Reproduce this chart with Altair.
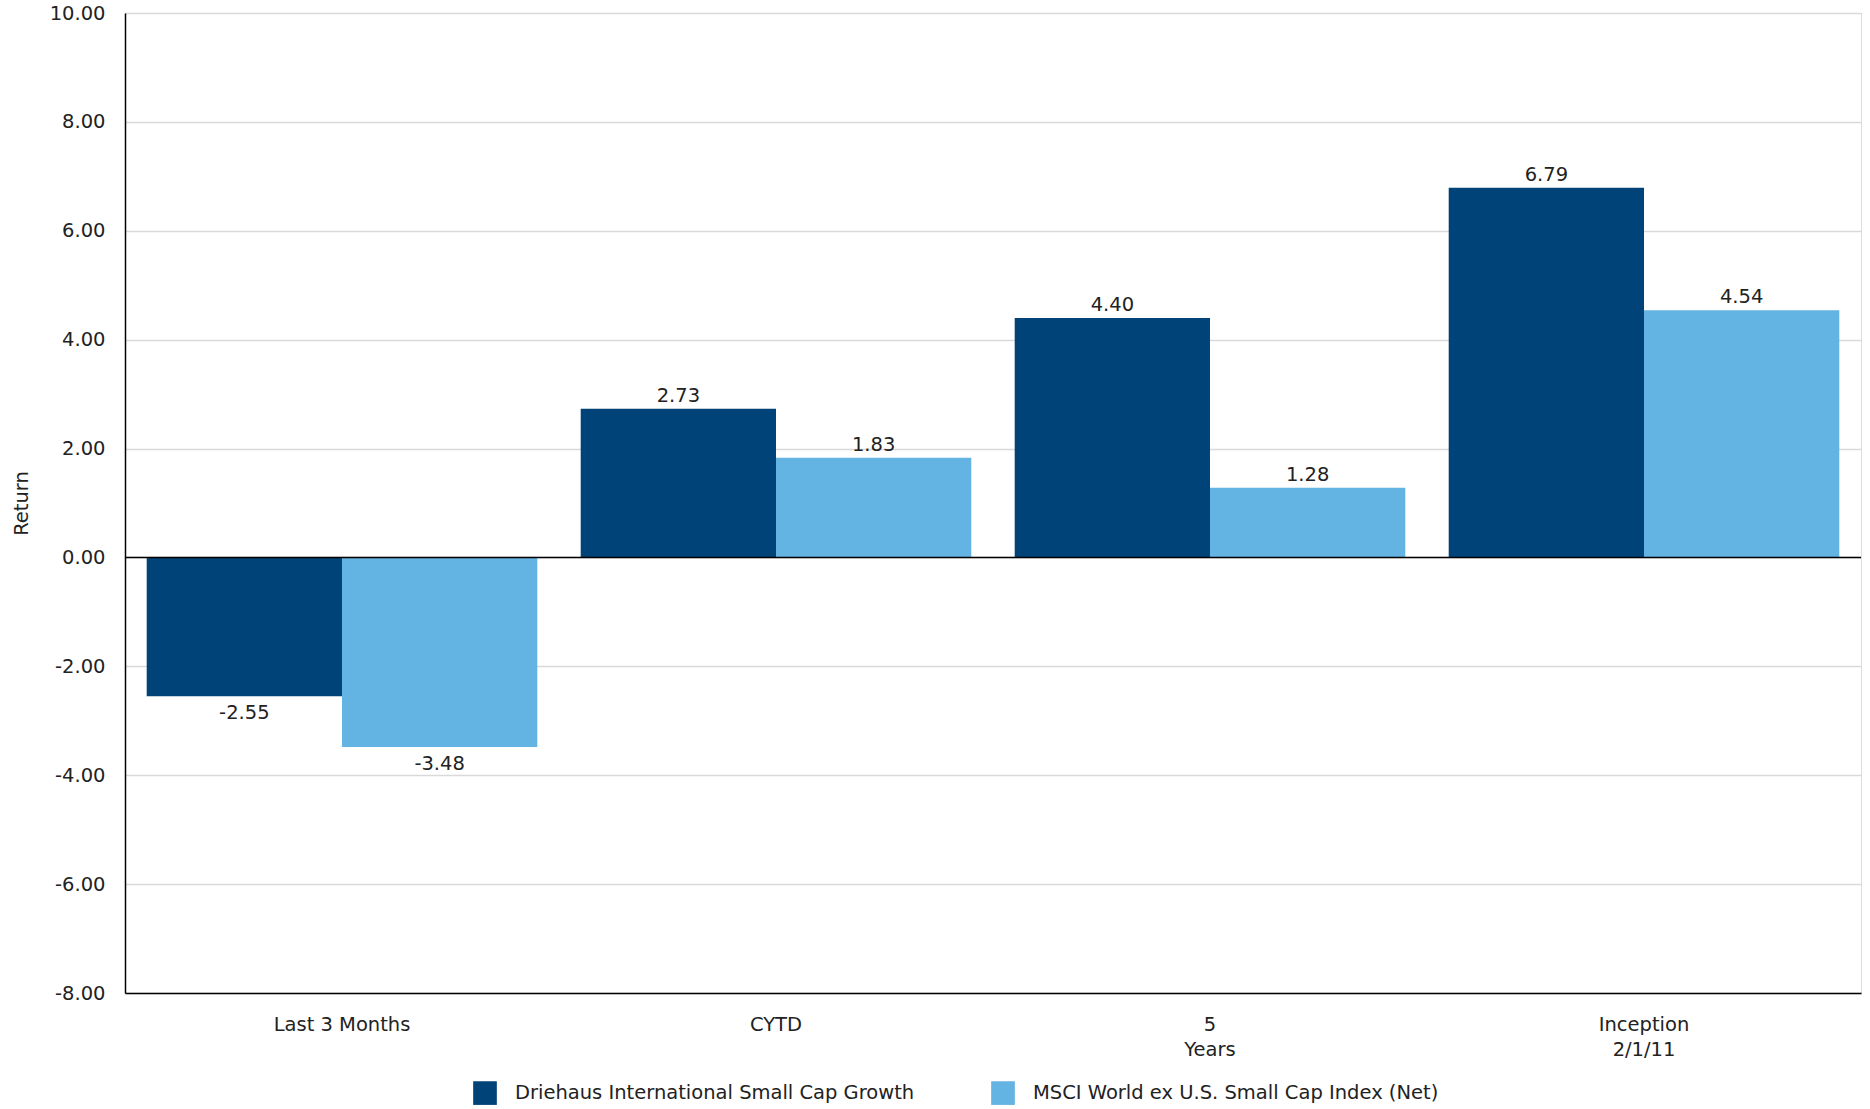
import altair as alt
import pandas as pd

categories = ["Last 3 Months", "CYTD", "5|Years", "Inception|2/1/11"]
series = ["Driehaus International Small Cap Growth", "MSCI World ex U.S. Small Cap Index (Net)"]
fund = [-2.55, 2.73, 4.40, 6.79]
index = [-3.48, 1.83, 1.28, 4.54]
colors = ["#004379", "#63B3E3"]

rows = []
for i, c in enumerate(categories):
    rows.append({"cat": c, "series": series[0], "value": fund[i]})
    rows.append({"cat": c, "series": series[1], "value": index[i]})
df = pd.DataFrame(rows)
df["label"] = df["value"].map(lambda v: f"{v:.2f}")

FONT = "DejaVu Sans"
FS = 19.5
TXT = "#222222"

x_enc = alt.X("cat:N", sort=categories,
              scale=alt.Scale(paddingInner=0.1, paddingOuter=0.05),
              axis=alt.Axis(title=None, labelAngle=0, labelExpr="split(datum.label, '|')",
                            labelFontSize=FS, labelColor=TXT, labelFont=FONT,
                            labelPadding=22, labelLineHeight=25, ticks=False,
                            domainColor="#000000", domainWidth=1.5, grid=False))
y_scale = alt.Scale(domain=[-8, 10], nice=False, zero=False)
xoff = alt.XOffset("series:N", sort=series)

base = alt.Chart(df)

bars = base.mark_bar().encode(
    x=x_enc,
    xOffset=xoff,
    y=alt.Y("value:Q", scale=y_scale,
            axis=alt.Axis(title="Return", values=list(range(-8, 11, 2)),
                          labelExpr="replace(format(datum.value, '.2f'), '\u2212', '-')",
                          labelFontSize=FS, labelColor=TXT, labelFont=FONT,
                          labelPadding=20, ticks=False, grid=True, gridColor="#d9d9d9",
                          gridWidth=1.5, domainColor="#000000", domainWidth=1.5,
                          titleFontSize=FS, titleFont=FONT, titleFontWeight="normal",
                          titleColor=TXT, titleX=-104, titleY=490, titleAngle=270,
                          titleBaseline="middle", titleAlign="center")),
    y2=alt.datum(0),
    color=alt.Color("series:N", sort=series,
                    scale=alt.Scale(domain=series, range=colors),
                    legend=alt.Legend(title=None, orient="none", direction="horizontal",
                                      legendX=348, legendY=1068, symbolType="square",
                                      symbolSize=560, symbolStrokeWidth=0, symbolOpacity=1,
                                      labelFontSize=FS, labelFont=FONT, labelColor=TXT,
                                      labelOffset=18, columnPadding=76, labelLimit=700)),
)

pos_text = base.transform_filter("datum.value >= 0").mark_text(
    baseline="bottom", dy=-3, fontSize=FS, font=FONT, color=TXT
).encode(x=alt.X("cat:N", sort=categories), xOffset=xoff, y="value:Q",
         text="label:N")

neg_text = base.transform_filter("datum.value < 0").mark_text(
    baseline="top", dy=8, fontSize=FS, font=FONT, color=TXT
).encode(x=alt.X("cat:N", sort=categories), xOffset=xoff, y="value:Q",
         text="label:N")

zero = alt.Chart(pd.DataFrame({"z": [0]})).mark_rule(color="#000000", strokeWidth=1.5).encode(
    y=alt.Y("z:Q", scale=y_scale)
)

chart = alt.layer(bars, zero, pos_text, neg_text).properties(
    width=1736, height=980,
    autosize=alt.AutoSizeParams(type="none"),
    padding={"left": 125, "top": 13, "right": 9, "bottom": 116},
).configure_view(stroke=None).configure(background="white")

chart.save("out.html", embed_options={"renderer": "svg", "actions": False})
